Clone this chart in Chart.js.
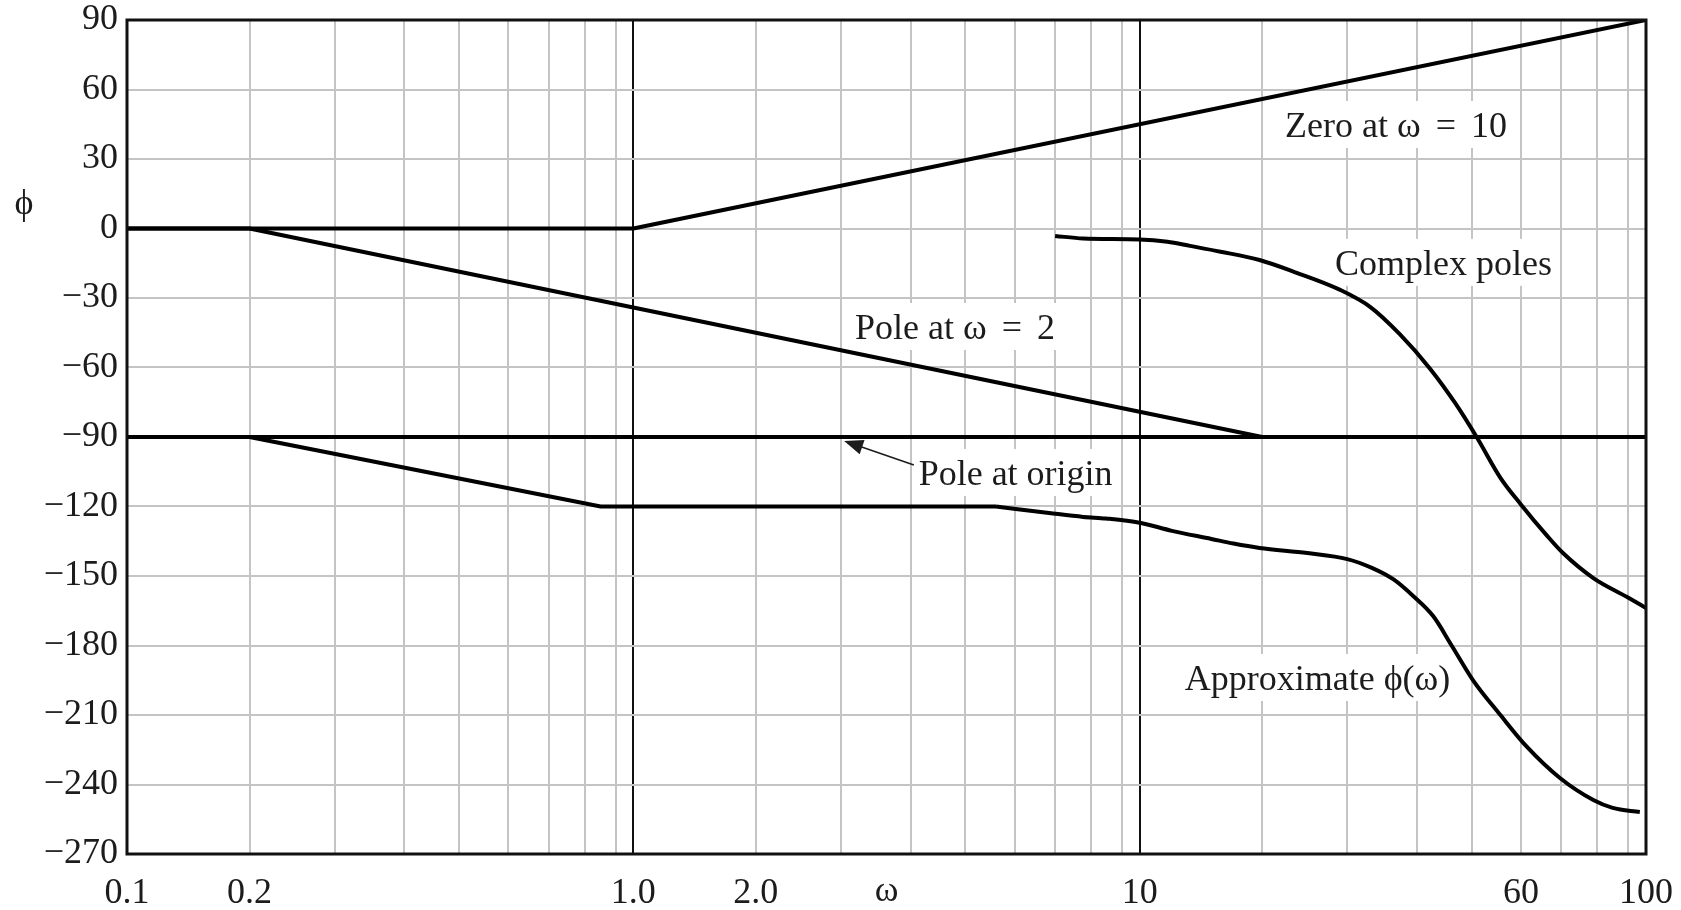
<!DOCTYPE html>
<html>
<head>
<meta charset="utf-8">
<title>Phase plot</title>
<script src="https://cdn.jsdelivr.net/npm/chart.js@4.4.1/dist/chart.umd.min.js"></script>
<style>
  html, body { margin: 0; padding: 0; background: #fff; }
  #wrap { width: 1681px; height: 910px; }
</style>
</head>
<body>
<div id="wrap"><canvas id="phase"></canvas></div>
<script>
// omega in rad/s, phase in degrees
const zeroW = [0.1, 1, 100];
const zeroPhi = [0, 0, 90];

const pole2W = [0.1, 0.2, 20];
const pole2Phi = [0, 0, -90];

const originW = [0.1, 100];
const originPhi = [-90, -90];

const complexW = [7.0, 7.77, 10, 11.7, 13.3, 15.8, 19.7, 23.2, 29, 33, 37.2, 42.2, 46.7, 50.9, 55.6, 59.9, 66.3, 70.4, 78.8, 89.6, 100];
const complexPhi = [-3.2, -4.3, -4.7, -5.7, -7.5, -10.0, -13.6, -18.6, -26.5, -33.9, -45.5, -60.6, -75.3, -90, -107.6, -118.9, -132.7, -140.1, -150.9, -159.1, -163.8];

// approximate phase: straight part, then the smooth part
const approxLineW = [0.1, 0.2, 0.85, 5.6];
const approxLinePhi = [-90, -90, -120, -120];
const approxCurveW = [5.6, 6.84, 7.77, 8.47, 10, 12, 15, 17, 19.7, 24.8, 30, 33.2, 36.3, 39.3, 42.7, 46.1, 50.2, 55.6, 61.4, 69.6, 78.8, 84.8, 96.4];
const approxCurvePhi = [-120, -122.8, -124.5, -125.2, -127, -130.5, -134, -136, -137.9, -140.1, -142.7, -146.5, -151.5, -158.5, -167.3, -180.2, -194.9, -210, -223.8, -237.2, -246.7, -250.1, -251.9];

const xGrid = [0.1, 0.2, 0.3, 0.4, 0.5, 0.6, 0.7, 0.8, 0.9, 1, 2, 3, 4, 5, 6, 7, 8, 9, 10, 20, 30, 40, 50, 60, 70, 80, 90, 100];
const xTickValues = [0.1, 0.2, 1, 2, 10, 60, 100];
const xTickText = ['0.1', '0.2', '1.0', '2.0', '10', '60', '100'];

// text notes, anchored at left/baseline in data coordinates
const noteText = ['Zero at \u03c9\u2004\u200a=\u2004\u200a10', 'Complex poles', 'Pole at \u03c9\u2004\u200a=\u2004\u200a2', 'Pole at origin', 'Approximate \u03d5(\u03c9)'];
const noteW = [22.3, 28.3, 3.18, 4.13, 12.9];
const notePhi = [39.5, -20, -47.7, -110.7, -199.2];
const arrowFrom = [4.05, -102.1];
const arrowTo = [3.04, -91.7];

const FONT = '36px "Liberation Serif", "Times New Roman", serif';
const INK = '#1c1c1c';

// the printed log paper spaces 2..9 a little unevenly inside each decade
const paperSteps = [0, 0.242, 0.410, 0.548, 0.656, 0.753, 0.833, 0.904, 0.965, 1];

function paperPos(v) {
  const d = Math.floor(Math.log10(v) + 1e-9);
  const m = v / Math.pow(10, d);
  const k = Math.max(1, Math.min(9, Math.floor(m + 1e-9)));
  const t = (Math.log10(m) - Math.log10(k)) / (Math.log10(k + 1) - Math.log10(k));
  return d + paperSteps[k - 1] + t * (paperSteps[k] - paperSteps[k - 1]);
}

class PaperLogScale extends Chart.LogarithmicScale {
  getPixelForValue(value) {
    if (value === undefined || value === 0) value = this.min;
    if (value === null || isNaN(value)) return NaN;
    const a = paperPos(this.min), b = paperPos(this.max);
    return this.getPixelForDecimal((paperPos(value) - a) / (b - a));
  }
  getValueForPixel(pixel) {
    const a = paperPos(this.min), b = paperPos(this.max);
    const target = a + this.getDecimalForPixel(pixel) * (b - a);
    let lo = this.min, hi = this.max;
    for (let i = 0; i < 40; i++) {
      const mid = Math.sqrt(lo * hi);
      if (paperPos(mid) < target) lo = mid; else hi = mid;
    }
    return Math.sqrt(lo * hi);
  }
}
PaperLogScale.id = 'paperLog';
PaperLogScale.defaults = Chart.LogarithmicScale.defaults;
Chart.register(PaperLogScale);

const pts = (ws, ps) => ws.map((w, i) => ({ x: w, y: ps[i] }));

const curve = (data, smooth) => ({
  data: data,
  borderColor: '#000',
  borderWidth: 4,
  pointRadius: 0,
  fill: false,
  tension: 0,
  cubicInterpolationMode: smooth ? 'monotone' : 'default',
  borderCapStyle: 'butt',
  borderJoinStyle: 'round'
});

// keep tick labels from pushing the plot area inwards
const noPad = s => {
  s.paddingTop = 0;
  s.paddingBottom = 0;
  s.paddingLeft = 0;
  s.paddingRight = 0;
};

const notesPlugin = {
  id: 'notes',
  beforeDatasetsDraw(chart) {
    const { ctx, scales: { x, y } } = chart;
    ctx.save();
    ctx.font = FONT;
    ctx.textBaseline = 'alphabetic';
    ctx.textAlign = 'left';
    noteText.forEach((txt, i) => {
      const px = x.getPixelForValue(noteW[i]);
      const py = y.getPixelForValue(notePhi[i]);
      const w = ctx.measureText(txt).width;
      ctx.fillStyle = '#fff';
      ctx.fillRect(px - 5, py - 36, w + 10, 47);
      ctx.fillStyle = INK;
      ctx.fillText(txt, px, py);
    });
    ctx.restore();
  },
  afterDatasetsDraw(chart) {
    const { ctx, chartArea: a, scales: { x, y } } = chart;
    ctx.save();

    // arrow pointing at the pole-at-origin line
    const x0 = x.getPixelForValue(arrowFrom[0]), y0 = y.getPixelForValue(arrowFrom[1]);
    const x1 = x.getPixelForValue(arrowTo[0]), y1 = y.getPixelForValue(arrowTo[1]);
    const ang = Math.atan2(y1 - y0, x1 - x0);
    const c = Math.cos(ang), s = Math.sin(ang);
    ctx.strokeStyle = INK;
    ctx.lineWidth = 1.6;
    ctx.beginPath();
    ctx.moveTo(x0, y0);
    ctx.lineTo(x1 - 14 * c, y1 - 14 * s);
    ctx.stroke();
    ctx.fillStyle = INK;
    ctx.beginPath();
    ctx.moveTo(x1, y1);
    ctx.lineTo(x1 - 19 * c + 7.5 * s, y1 - 19 * s - 7.5 * c);
    ctx.lineTo(x1 - 19 * c - 7.5 * s, y1 - 19 * s + 7.5 * c);
    ctx.closePath();
    ctx.fill();

    // frame
    ctx.strokeStyle = '#111';
    ctx.lineWidth = 3;
    ctx.strokeRect(a.left, a.top, a.right - a.left, a.bottom - a.top);

    // phase axis symbol, upright
    ctx.font = FONT;
    ctx.fillStyle = INK;
    ctx.textAlign = 'center';
    ctx.textBaseline = 'middle';
    ctx.fillText('\u03d5', y.left + 24, y.getPixelForValue(10.5));
    ctx.restore();
  }
};

const ctx = document.getElementById('phase').getContext('2d');
new Chart(ctx, {
  type: 'line',
  data: {
    datasets: [
      curve(pts(originW, originPhi), false),
      curve(pts(zeroW, zeroPhi), false),
      curve(pts(pole2W, pole2Phi), false),
      curve(pts(approxLineW, approxLinePhi), false),
      curve(pts(approxCurveW, approxCurvePhi), true),
      curve(pts(complexW, complexPhi), true)
    ]
  },
  options: {
    responsive: true,
    maintainAspectRatio: false,
    animation: false,
    events: [],
    layout: { padding: { top: 20, right: 35, bottom: 0, left: 0 } },
    plugins: {
      legend: { display: false },
      tooltip: { enabled: false }
    },
    scales: {
      x: {
        type: 'paperLog',
        min: 0.1,
        max: 100,
        afterFit: s => { s.height = 56; noPad(s); },
        afterBuildTicks: s => { s.ticks = xGrid.map(v => ({ value: v })); },
        border: { display: false },
        grid: {
          drawTicks: false,
          lineWidth: 2,
          color: c => (c.tick && (c.tick.value === 1 || c.tick.value === 10)) ? '#111' : '#c4c4c4'
        },
        ticks: {
          autoSkip: false,
          maxRotation: 0,
          minRotation: 0,
          padding: 22,
          color: INK,
          font: { family: '"Liberation Serif", serif', size: 36, lineHeight: 1 },
          callback: v => {
            const i = xTickValues.findIndex(t => Math.abs(t - v) < 1e-9);
            return i >= 0 ? xTickText[i] : '';
          }
        },
        title: {
          display: true,
          text: '\u03c9',
          color: INK,
          font: { family: '"Liberation Serif", serif', size: 36, lineHeight: 1 },
          padding: { top: 0, bottom: 0 }
        }
      },
      y: {
        type: 'linear',
        min: -270,
        max: 90,
        afterFit: s => { s.width = 127; noPad(s); },
        border: { display: false },
        grid: { drawTicks: false, lineWidth: 2, color: '#c4c4c4' },
        ticks: {
          stepSize: 30,
          padding: 9,
          color: INK,
          font: { family: '"Liberation Serif", serif', size: 36, lineHeight: 1 },
          callback: v => v < 0 ? '\u2212' + (-v) : String(v)
        }
      }
    }
  },
  plugins: [notesPlugin]
});
</script>
</body>
</html>
